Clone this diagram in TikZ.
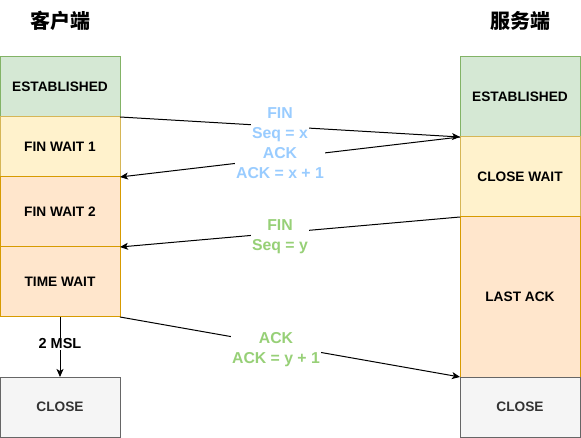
\documentclass[tikz,border=0pt]{standalone}
\usepackage{fontspec}
\setmainfont{Liberation Sans}
\newfontfamily\cjk{Noto Sans CJK SC}
\usetikzlibrary{arrows.meta}
\definecolor{gfill}{HTML}{D5E8D4}\definecolor{gline}{HTML}{82B366}
\definecolor{yfill}{HTML}{FFF2CC}\definecolor{yline}{HTML}{D6B656}
\definecolor{ofill}{HTML}{FFE6CC}\definecolor{oline}{HTML}{D79B00}
\definecolor{cfill}{HTML}{F5F5F5}\definecolor{cline}{HTML}{666666}
\definecolor{ctext}{HTML}{333333}
\definecolor{lblue}{HTML}{99CCFF}\definecolor{lgreen}{HTML}{97D077}
\tikzset{
  statebox/.style={rectangle, draw, line width=1pt, minimum width=120pt, inner sep=0pt, outer sep=0pt,
    font=\fontsize{13.7}{16}\selectfont\bfseries},
  gbox/.style={statebox, fill=gfill, draw=gline},
  ybox/.style={statebox, fill=yfill, draw=yline},
  obox/.style={statebox, fill=ofill, draw=oline},
  cbox/.style={statebox, fill=cfill, draw=cline, text=ctext},
  msg/.style={draw=black, line width=1pt, -{Stealth[length=8pt,width=7pt,inset=2pt]}},
  msglabel/.style={fill=white, inner sep=1pt, align=center, font=\fontsize{15.8}{20}\selectfont\bfseries},
  title/.style={font=\cjk\bfseries\fontsize{20}{24}\selectfont}
}
\begin{document}
\begin{tikzpicture}[x=1pt,y=-1pt]
\useasboundingbox (0,0) rectangle (581,438);
% titles
\node[title] (tl) at (60,21) {客户端};
\node[title] (tr) at (520.5,21) {服务端};
% client column
\node[gbox, minimum height=60pt] (est1) at (60,87) {ESTABLISHED};
\node[ybox, minimum height=60pt] (fw1) at (60,147) {FIN WAIT 1};
\node[obox, minimum height=70pt] (fw2) at (60,212) {FIN WAIT 2};
\node[obox, minimum height=70pt] (tw) at (60,282) {TIME WAIT};
\node[cbox, minimum height=60pt] (cl1) at (60,407) {CLOSE};
% server column
\node[gbox, minimum height=80pt] (est2) at (520,97) {ESTABLISHED};
\node[ybox, minimum height=80pt] (cw) at (520,177) {CLOSE WAIT};
\node[obox, minimum height=160pt] (la) at (520,297) {LAST ACK};
\node[cbox, minimum height=60pt] (cl2) at (520,407) {CLOSE};
% messages
\draw[msg] (est1.south east) -- (est2.south west);
\draw[msg] (est2.south west) -- (fw1.south east);
\draw[msg] (cw.south west) -- (fw2.south east);
\draw[msg] (tw.south east) -- (la.south west);
\draw[msg] (tw.south) -- (cl1.north);
% labels
\node[msglabel, text=lblue] (l1) at (280,124.5) {FIN\\Seq = x};
\node[msglabel, text=lblue] (l2) at (280,163.5) {ACK\\ACK = x + 1};
\node[msglabel, text=lgreen] (l3) at (280,236.5) {FIN\\Seq = y};
\node[msglabel, text=lgreen] (l4) at (276,349.5) {ACK\\ACK = y + 1};
\node[fill=white, inner sep=1pt, font=\fontsize{14.5}{17}\selectfont\bfseries] (msl) at (60,344) {2 MSL};
\end{tikzpicture}
\end{document}
